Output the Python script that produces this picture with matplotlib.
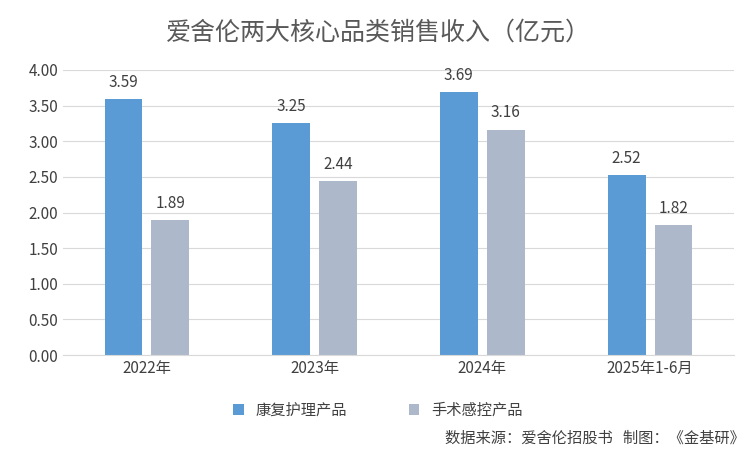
import matplotlib
matplotlib.use("Agg")
import matplotlib.pyplot as plt
import numpy as np

plt.rcParams['font.family'] = ['Noto Sans CJK SC', 'DejaVu Sans']

categories = ["2022年", "2023年", "2024年", "2025年1-6月"]
rehab = [3.59, 3.25, 3.69, 2.52]
surgical = [1.89, 2.44, 3.16, 1.82]
series_names = ["康复护理产品", "手术感控产品"]
yticks = [0.0, 0.5, 1.0, 1.5, 2.0, 2.5, 3.0, 3.5, 4.0]

fig = plt.figure(figsize=(7.56, 4.51), dpi=100)
ax = fig.add_axes([63/756, 1-355/451, 671/756, 285/451])
x = np.arange(len(categories))
w = 0.225
off = 0.14
b1 = ax.bar(x - off, rehab, w, color="#5B9BD5", label=series_names[0])
b2 = ax.bar(x + off, surgical, w, color="#ADB9CA", label=series_names[1])
for bars, vals in ((b1, rehab), (b2, surgical)):
    for r, v in zip(bars, vals):
        ax.text(r.get_x() + r.get_width()/2, v + 0.12, f"{v:.2f}", ha="center", va="bottom", fontsize=11, color="#404040")
ax.set_xlim(-0.5, 3.5)
ax.set_ylim(0, 4.0)
ax.set_yticks(yticks)
ax.set_yticklabels([f"{t:.2f}" for t in yticks], fontsize=11, color="#404040")
ax.set_xticks(x)
ax.set_xticklabels(categories, fontsize=11, color="#404040")
ax.yaxis.grid(True, color="#D9D9D9", linewidth=0.8)
ax.set_axisbelow(True)
for s in ["top", "right", "left"]:
    ax.spines[s].set_visible(False)
ax.spines["bottom"].set_color("#D9D9D9")
ax.tick_params(length=0)
fig.text(0.5, 1-33/451, "爱舍伦两大核心品类销售收入（亿元）", ha="center", va="center", fontsize=18, color="#595959")
fig.legend(handles=[b1, b2], loc="center", bbox_to_anchor=(0.5, 1-410/451), ncol=2, frameon=False,
           fontsize=11, handlelength=0.7, handleheight=0.7, columnspacing=4, labelcolor="#404040")
fig.text(0.985, 1-438/451, "数据来源：爱舍伦招股书   制图：《金基研》", ha="right", va="center", fontsize=11, color="#404040")
fig.savefig("out.png", dpi=100)
